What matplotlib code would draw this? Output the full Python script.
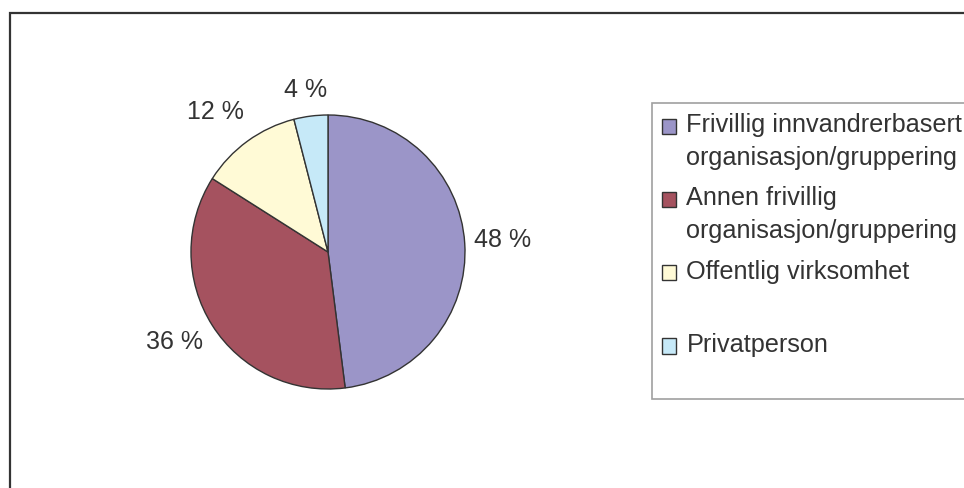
import matplotlib
matplotlib.use("Agg")
import matplotlib.pyplot as plt
from matplotlib.patches import Rectangle
from matplotlib.legend_handler import HandlerPatch

plt.rcParams['font.family'] = ['Liberation Sans', 'DejaVu Sans']

# every entry takes two lines in the original legend
labels = ["Frivillig innvandrerbasert\norganisasjon/gruppering",
          "Annen frivillig\norganisasjon/gruppering",
          "Offentlig virksomhet\n ",
          "Privatperson\n "]
values = [48, 36, 12, 4]
colors = ["#9b95c8", "#a5525f", "#fffad6", "#c6e9f8"]
pct_labels = ["48 %", "36 %", "12 %", "4 %"]
# where the percentage labels sit (pie data units)
pct_pos = [(1.277, 0.091), (-1.12, -0.657), (-0.818, 1.022), (-0.161, 1.179)]

textcol = "#333333"
edge = "#333333"


class TopHandler(HandlerPatch):
    # moves the square up next to the first text line
    def __init__(self, lift=0.0, **kw):
        super().__init__(**kw)
        self.lift = lift

    def create_artists(self, legend, orig_handle, xdescent, ydescent,
                       width, height, fontsize, trans):
        p = Rectangle((-xdescent, -ydescent + self.lift), width, height)
        self.update_prop(p, orig_handle, legend)
        p.set_transform(trans)
        return [p]


fig = plt.figure(figsize=(9.64, 4.88), dpi=100)
W, H = 964, 488

# outer frame (only top/left visible in the crop)
fig.patches.append(Rectangle((10 / W, -0.1), 1.2, (H - 13) / H + 0.1,
                             transform=fig.transFigure, fill=False,
                             edgecolor="#333333", linewidth=1.6))

cx, cy, r = 328, 252, 137
ax = fig.add_axes([(cx - r) / W, (H - cy - r) / H, 2 * r / W, 2 * r / H])
wedges, texts = ax.pie(values, colors=colors, startangle=90, counterclock=False,
                       labels=pct_labels,
                       wedgeprops=dict(edgecolor=edge, linewidth=1.0),
                       textprops=dict(fontsize=18, color=textcol))
for t, pos in zip(texts, pct_pos):
    t.set_position(pos)
    t.set_ha("center")
    t.set_va("center")
ax.set_xlim(-1, 1)
ax.set_ylim(-1, 1)
ax.set_aspect("equal")

handlers = {w: TopHandler(lift=11.3) for w in wedges}
leg = fig.legend(wedges, labels, loc="upper left",
                 bbox_to_anchor=(652 / W, 1 - 103 / H), borderaxespad=0,
                 fontsize=18.2, handlelength=0.56, handleheight=0.56,
                 handletextpad=0.4, borderpad=0.4, labelspacing=0.66,
                 frameon=True, fancybox=False, handler_map=handlers,
                 labelcolor=textcol)
leg.get_frame().set_edgecolor("#888888")
leg.get_frame().set_linewidth(1.2)
for t in leg.get_texts():
    t.set_linespacing(1.45)

fig.savefig("out.png", dpi=100)
